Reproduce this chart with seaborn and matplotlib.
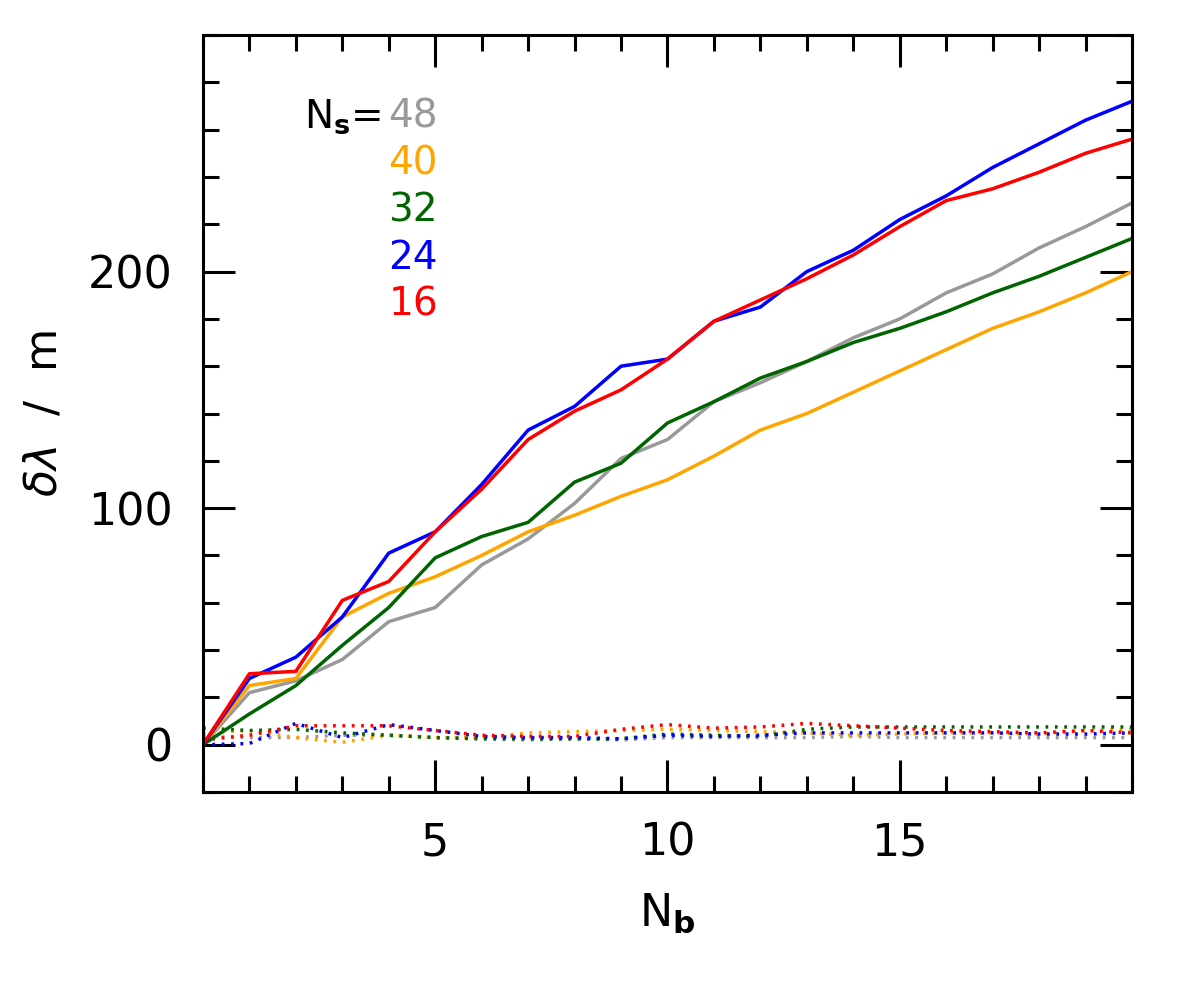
import numpy as np
import pandas as pd
import matplotlib
matplotlib.use("Agg")
import matplotlib.pyplot as plt
from matplotlib.ticker import MultipleLocator, FixedLocator
import seaborn as sns

sns.set_theme(style="white")
plt.rcParams['font.family'] = ['DejaVu Sans']
plt.rcParams['font.weight'] = 'normal'
plt.rcParams['mathtext.fontset'] = 'custom'
plt.rcParams['mathtext.rm'] = 'DejaVu Sans'
plt.rcParams['mathtext.it'] = 'DejaVu Sans:italic'
plt.rcParams['mathtext.bf'] = 'DejaVu Sans:bold'
for k in ['text.color', 'axes.labelcolor', 'xtick.color', 'ytick.color', 'axes.edgecolor']:
    plt.rcParams[k] = 'black'

nb = list(range(0, 21))
ns_labels = ["48", "40", "32", "24", "16"]
colors = ["#999999", "#ffa500", "#006400", "#0000ff", "#ff0000"]

solid_48 = [0, 22, 27, 36, 52, 58, 76, 87, 102, 121, 129, 145, 153, 162, 172, 180, 191, 199, 210, 219, 229]
solid_40 = [0, 25, 28, 54, 64, 71, 80, 90, 97, 105, 112, 122, 133, 140, 149, 158, 167, 176, 183, 191, 200]
solid_32 = [0, 13, 25, 42, 58, 79, 88, 94, 111, 119, 136, 145, 155, 162, 170, 176, 183, 191, 198, 206, 214]
solid_24 = [0, 28, 37, 54, 81, 90, 110, 133, 143, 160, 163, 179, 185, 200, 209, 222, 232, 244, 254, 264, 272]
solid_16 = [0, 30, 31, 61, 69, 90, 108, 129, 141, 150, 163, 179, 188, 197, 207, 219, 230, 235, 242, 250, 256]

dot_48 = [3.5, 3, 3, 4, 4, 3, 2.5, 2, 2.5, 2, 3, 3, 3, 3, 3.5, 3, 3, 3, 3, 3, 3]
dot_40 = [5, 6, 3, 1, 4, 3, 3, 5, 5.5, 6, 6.5, 6, 5.5, 5, 4, 4.5, 5, 5, 4.5, 6, 6.5]
dot_32 = [7, 6, 6.5, 5, 4, 3, 2.5, 2.5, 2.5, 2.5, 4.5, 4, 3.5, 6.5, 7.5, 7.5, 7.5, 7.5, 7.5, 7.5, 7.5]
dot_24 = [0, 0.5, 9, 3, 8.5, 6, 3.5, 3, 3, 2.5, 4, 3.5, 4, 5, 5, 5, 5, 5, 4.5, 4.5, 5]
dot_16 = [2, 4, 8, 8, 8, 6, 4, 3.5, 3.5, 6.5, 8.5, 7, 7.5, 9, 8, 7, 6, 5.5, 5, 6, 5]

solids = [solid_48, solid_40, solid_32, solid_24, solid_16]
dots = [dot_48, dot_40, dot_32, dot_24, dot_16]

fig = plt.figure(figsize=(11.96, 9.92), dpi=100)
ax = fig.add_axes([0.1697, 0.2016, 0.9465 - 0.1697, 0.9647 - 0.2016])

for ys, c in zip(dots, colors):
    sns.lineplot(x=nb, y=ys, color=c, ax=ax, linewidth=2.5,
                 linestyle=(0, (0.8, 1.9)))
for ys, c in zip(solids, colors):
    sns.lineplot(x=nb, y=ys, color=c, ax=ax, linewidth=2.5)

ax.set_xlim(0, 20)
ax.set_ylim(-20, 300)
ax.xaxis.set_major_locator(FixedLocator([5, 10, 15]))
ax.xaxis.set_minor_locator(MultipleLocator(1))
ax.yaxis.set_major_locator(FixedLocator([0, 100, 200]))
ax.yaxis.set_minor_locator(MultipleLocator(20))

ax.tick_params(which='both', direction='in', top=True, right=True,
               bottom=True, left=True, width=2.2, color='black')
ax.tick_params(which='major', length=23)
ax.tick_params(which='minor', length=11.5)
ax.tick_params(axis='x', which='major', pad=21, labelsize=32)
ax.tick_params(axis='y', which='major', pad=22, labelsize=32)
for sp in ax.spines.values():
    sp.set_linewidth(2.2)
    sp.set_color('black')

ax.set_xlabel(r'N$_\mathbf{b}$', fontsize=32, labelpad=20)
ax.set_ylabel(r'$\delta\lambda$  /  m', fontsize=32, labelpad=16)

ax.text(0.192, 0.892, r'N$_\mathbf{s}$=', transform=ax.transAxes,
        ha='right', va='center', fontsize=28, color='black')
for i, (lab, c) in enumerate(zip(ns_labels, colors)):
    ax.text(0.253, 0.892 - 0.0621 * i, lab, transform=ax.transAxes,
            ha='right', va='center', fontsize=28, color=c)

fig.savefig("out.png", dpi=100)
